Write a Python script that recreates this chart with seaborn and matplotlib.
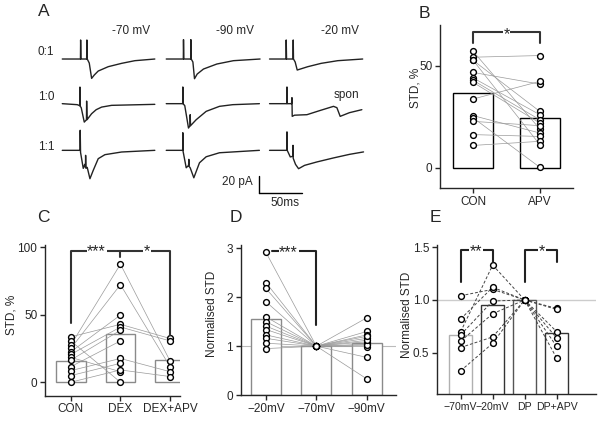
import numpy as np
import pandas as pd
import matplotlib
matplotlib.use("Agg")
import matplotlib.pyplot as plt
import seaborn as sns

sns.set_style("ticks")
plt.rcParams['font.family'] = ['Liberation Sans', 'DejaVu Sans']
plt.rcParams['axes.linewidth'] = 1.0

# ---------------- data ----------------
# Panel A traces (t in ms from trace start, i in pA from baseline)
tr_70_01_t = [0, 21.5, 21.7, 22.1, 28.8, 29.1, 29.5, 31.9, 34.7, 37.8, 42.5, 54.3, 70.1, 85.8, 109.4]
tr_70_01_i = [0, 0, 22.8, 0, 0, 22.8, 0, -4.8, -23.2, -19.2, -14.4, -9.2, -5.2, -2.0, 0]
tr_70_10_t = [0, 17.7, 20.7, 20.9, 21.2, 22.4, 26.0, 28.6, 28.8, 29.3, 34.7, 40.1, 46.5, 58.3, 109.4]
tr_70_10_i = [0, -1.2, -2.4, 19.9, -3.0, -4.8, -22.1, -19.2, 3.1, -19.2, -12, -7.2, -4.1, -2.0, -0.8]
tr_70_11_t = [0, 21.0, 21.2, 21.6, 24.8, 26.6, 27.4, 27.6, 28.0, 29.5, 32.7, 36.6, 42.5, 50.4, 70.1, 109.4]
tr_70_11_i = [0, 0, 24, -2.4, -21.6, -16.8, -20.4, -6, -21.6, -20.4, -34, -24, -10, -5.2, -2.0, 0]
tr_90_01_t = [0, 20.2, 20.4, 20.8, 28.9, 29.1, 29.5, 31.5, 33.4, 36.6, 44.0, 59.8, 79.4, 110.9]
tr_90_01_i = [0, 0, 23.2, 0, 0, 23.2, 0, -3.6, -23.6, -18, -12, -6, -2, 0]
tr_90_10_t = [0, 19.4, 19.6, 19.9, 21.9, 26.3, 28.1, 28.3, 28.7, 35.4, 47.2, 62.9, 78.6, 110.1]
tr_90_10_i = [0, 0, 20, 0, -2.4, -29.2, -26.4, -13.2, -26.4, -19.2, -9.2, -3.2, -1.2, 0]
tr_90_11_t = [0, 19.4, 19.6, 19.9, 23.6, 26.4, 26.7, 27.0, 28.3, 32.6, 39.3, 47.2, 62.9, 110.1]
tr_90_11_i = [0, 0, 21.1, -1.2, -20.9, -18, -10.8, -19.2, -20.9, -32.9, -14.9, -7.7, -2.9, 0]
tr_20_01_t = [0, 19.5, 19.7, 20.1, 27.7, 28.0, 28.3, 30.3, 32.7, 45.2, 61.0, 80.6, 110.1]
tr_20_01_i = [0, 0, 22.8, 0, 0, 22.8, 0, -3.6, -13.2, -9.2, -5.2, -2.0, 0]
tr_20_10_t = [0, 20.3, 20.6, 20.9, 26.0, 26.5, 26.8, 29.5, 44.2, 59, 75.6, 79.6, 83.5, 94.4, 109.1]
tr_20_10_i = [0, 0, 20, 0, 0, 7.2, -15.2, -13.8, -13.2, -8.4, -3.2, -4.8, -15.2, -10.8, -7.2]
tr_20_11_t = [0, 20.3, 20.6, 20.9, 24.5, 27.4, 27.7, 28.0, 30.7, 34.3, 41.4, 56, 75.6, 94.6, 111.1]
tr_20_11_i = [0, 0, 22.1, 0, -7.9, -7.2, 6, -9.6, -16.8, -22, -18, -13.9, -9.1, -4.8, -1.9]
col_labels = ["-70 mV", "-90 mV", "-20 mV"]
row_labels = ["0:1", "1:0", "1:1"]
scale_pa = 20
scale_ms = 50

# Panel B
b_cats = ["CON", "APV"]
b_bars = [36.8, 24.5]
b_con = [57.0, 54.2, 52.6, 46.7, 44.0, 42.8, 41.8, 33.7, 25.5, 24.4, 22.7, 16.2, 10.9, 52.6]
b_apv = [19.0, 55.0, 27.6, 41.0, 26.0, 23.5, 21.9, 42.3, 17.0, 0.2, 20.6, 15.3, 12.9, 11.3]

# Panel C
c_cats = ["CON", "DEX", "DEX+APV"]
c_bars = [15.6, 35.6, 16.5]
c_con = [33.6, 30.6, 27.5, 25.0, 22.5, 20.6, 18.4, 16.4, 11.5, 8.6, 4.9, 0.0]
c_dex = [42.9, 0.0, 87.5, 72.3, 49.8, 40.9, 7.8, 38.5, 30.6, 17.6, 14.0, 9.1]
c_dex_pair = [87.5, 72.3, 42.9, 40.9, 17.6, 9.1]
c_dexapv = [15.7, 11.5, 32.4, 30.6, 7.8, 4.2]

# Panel D
d_cats = ["\u221220mV", "\u221270mV", "\u221290mV"]
d_bars = [1.55, 1.0, 1.06]
d_m20 = [2.92, 2.30, 2.18, 1.91, 1.60, 1.50, 1.41, 1.34, 1.23, 1.16, 1.06, 0.95]
d_m70 = [1.0] * 12
d_m90 = [1.58, 1.30, 1.23, 1.16, 1.09, 1.04, 0.99, 0.77, 0.33, 1.02, 1.12, 1.20]

# Panel E
e_cats = ["\u221270mV", "\u221220mV", "DP", "DP+APV"]
e_bars = [0.667, 0.95, 1.0, 0.69]
e_m70 = [1.04, 0.82, 0.70, 0.67, 0.61, 0.55, 0.33]
e_m20 = [1.10, 1.12, 1.33, 0.99, 0.87, 0.65, 0.59]
e_dp = [1.0] * 6
e_dpapv = [0.92, 0.91, 0.70, 0.64, 0.56, 0.45]

# ---------------- figure ----------------
W, H = 600, 421
fig = plt.figure(figsize=(6, 4.21), dpi=100)

def px_axes(l, t, r, b):
    return fig.add_axes([l / W, 1 - b / H, (r - l) / W, (b - t) / H])

def ftext(x, y, s, **kw):
    fig.text(x / W, 1 - y / H, s, **kw)

# ---- Panel A ----
axA = px_axes(0, 0, 440, 210)
axA.set_xlim(0, 440 * 1.182)
axA.set_ylim(-210 * 1.198, 0)
axA.axis("off")
col_off = [73.6, 196.5, 318.6]
row_off = [-70.7, -124.2, -180.1]
traces = [
    [(tr_70_01_t, tr_70_01_i), (tr_90_01_t, tr_90_01_i), (tr_20_01_t, tr_20_01_i)],
    [(tr_70_10_t, tr_70_10_i), (tr_90_10_t, tr_90_10_i), (tr_20_10_t, tr_20_10_i)],
    [(tr_70_11_t, tr_70_11_i), (tr_90_11_t, tr_90_11_i), (tr_20_11_t, tr_20_11_i)],
]
for r in range(3):
    for c in range(3):
        t, i = traces[r][c]
        axA.plot(np.array(t) + col_off[c], np.array(i) + row_off[r], color="#222222", lw=1.0)
sx, sy = 306.5, -230.8
axA.plot([sx, sx], [sy, sy + scale_pa], color="black", lw=1.0)
axA.plot([sx, sx + scale_ms], [sy, sy], color="black", lw=1.0)

ftext(44, 12, "A", fontsize=12.5, ha="center", va="center")
for x, s in zip([131, 235.5, 340], col_labels):
    ftext(x, 31.5, s, fontsize=8.5, ha="center", va="center")
for y, s in zip([51.7, 96.7, 146.7], row_labels):
    ftext(38, y, s, fontsize=8.5, ha="left", va="center")
ftext(346, 95, "spon", fontsize=8.5, ha="center", va="center")
ftext(237, 181.5, "20 pA", fontsize=8.5, ha="center", va="center")
ftext(285, 203.5, "50ms", fontsize=8.5, ha="center", va="center")

# helpers
def style_axes(ax, size=8.5):
    sns.despine(ax=ax)
    ax.tick_params(axis="both", labelsize=size, length=3.5, width=1.0, pad=2)
    ax.set_xlabel("")
    ax.set_ylabel("")

def bars(ax, cats, vals, edgecolors, width):
    df = pd.DataFrame({"cond": cats, "val": vals})
    sns.barplot(data=df, x="cond", y="val", ax=ax, color="white", width=width,
                errorbar=None, edgecolor="black", linewidth=1.0, zorder=1)
    for p, ec in zip(ax.patches, edgecolors):
        p.set_edgecolor(ec)

def pts(ax, x, vals):
    ax.plot([x] * len(vals), vals, "o", ms=4.2, mfc="white", mec="black", mew=1.0, zorder=4, clip_on=False)

def star(ax, x, y, s):
    ax.text(x, y, s, ha="center", va="center", fontsize=11.5,
            bbox=dict(facecolor="white", edgecolor="none", pad=0.5), zorder=6)

# ---- Panel B ----
axB = px_axes(440, 25, 573, 188)
bars(axB, b_cats, b_bars, ["black", "black"], 0.6)
for a, b in zip(b_con, b_apv):
    axB.plot([0, 1], [a, b], color="#9a9a9a", lw=0.5, zorder=2)
pts(axB, 0, b_con)
pts(axB, 1, b_apv)
axB.set_xlim(-0.5, 1.5)
axB.set_ylim(-10, 70)
axB.set_yticks([0, 50])
style_axes(axB)
axB.plot([0, 0, 1, 1], [61.4, 66.8, 66.8, 61.4], color="#333333", lw=1.5, zorder=5)
star(axB, 0.5, 65.5, "*")
ftext(424, 13, "B", fontsize=12.5, ha="center", va="center")
ftext(416, 88, "STD, %", fontsize=8.5, rotation=90, ha="center", va="center")

# ---- Panel C ----
axC = px_axes(45, 245, 180, 395.7)
bars(axC, c_cats, c_bars, ["#8a8a8a", "#8a8a8a", "#8a8a8a"], 0.6)
for a, b in zip(c_con, c_dex):
    axC.plot([0, 1], [a, b], color="#9a9a9a", lw=0.5, zorder=2)
for a, b in zip(c_dex_pair, c_dexapv):
    axC.plot([1, 2], [a, b], color="#9a9a9a", lw=0.5, zorder=2)
pts(axC, 0, c_con)
pts(axC, 1, c_dex)
pts(axC, 2, c_dexapv)
axC.set_xlim(-0.52, 2.2)
axC.set_ylim(-10, 101.7)
axC.set_yticks([0, 50, 100])
style_axes(axC)
axC.plot([0, 0, 1, 1], [43.7, 97.5, 97.5, 93], color="#333333", lw=1.5, zorder=5)
axC.plot([1, 2, 2], [97.5, 97.5, 35], color="#333333", lw=1.5, zorder=5)
star(axC, 0.52, 97.0, "***")
star(axC, 1.53, 97.0, "*")
ftext(43, 218, "C", fontsize=12.5, ha="center", va="center")
ftext(12, 315, "STD, %", fontsize=8.5, rotation=90, ha="center", va="center")

# ---- Panel D ----
axD = px_axes(240.7, 245, 396, 395)
axD.axhline(1.0, color="#bbbbbb", lw=0.8, zorder=0)
bars(axD, d_cats, d_bars, ["#8a8a8a", "#8a8a8a", "#8a8a8a"], 0.6)
for a, b, c in zip(d_m20, d_m70, d_m90):
    axD.plot([0, 1, 2], [a, b, c], color="#9a9a9a", lw=0.5, zorder=2)
pts(axD, 0, d_m20)
pts(axD, 1, d_m70)
pts(axD, 2, d_m90)
axD.set_xlim(-0.5, 2.58)
axD.set_ylim(0, 3.07)
axD.set_yticks([0, 1, 2, 3])
style_axes(axD)
axD.plot([0.12, 1.0, 1.0], [2.95, 2.95, 1.43], color="#222222", lw=1.5, zorder=5)
star(axD, 0.45, 2.92, "***")
ftext(236, 218, "D", fontsize=12.5, ha="center", va="center")
ftext(212, 313.5, "Normalised STD", fontsize=8.5, rotation=90, ha="center", va="center")

# ---- Panel E ----
axE = px_axes(436.7, 245, 596, 394)
axE.axhline(1.0, color="#cccccc", lw=1.0, zorder=0)
bars(axE, e_cats, e_bars, ["#b0b0b0", "#333333", "#555555", "#333333"], 0.72)
for a, b in zip(e_m70, e_m20):
    axE.plot([0, 1], [a, b], color="#444444", lw=0.7, ls=(0, (3, 2)), zorder=2)
for b in e_m20:
    axE.plot([1, 2], [b, 1.0], color="#444444", lw=0.7, ls=(0, (3, 2)), zorder=2)
for c in e_dpapv:
    axE.plot([2, 3], [1.0, c], color="#444444", lw=0.7, ls=(0, (3, 2)), zorder=2)
pts(axE, 0, e_m70)
pts(axE, 1, e_m20)
pts(axE, 2, e_dp)
pts(axE, 3, e_dpapv)
axE.set_xlim(-0.75, 4.23)
axE.set_ylim(0.11, 1.52)
axE.set_yticks([0.5, 1.0, 1.5])
axE.set_yticklabels(["0.5", "1.0", "1.5"])
style_axes(axE)
axE.tick_params(axis="x", labelsize=7.6)
axE.plot([0, 0, 1, 1], [1.17, 1.468, 1.468, 1.36], color="#222222", lw=1.5, zorder=5)
axE.plot([2, 2, 3, 3], [1.17, 1.468, 1.468, 1.36], color="#222222", lw=1.5, zorder=5)
star(axE, 0.48, 1.455, "**")
star(axE, 2.55, 1.455, "*")
ftext(435, 218, "E", fontsize=12.5, ha="center", va="center")
ftext(406.5, 315, "Normalised STD", fontsize=8.5, rotation=90, ha="center", va="center")

fig.savefig("out.png", dpi=100)
